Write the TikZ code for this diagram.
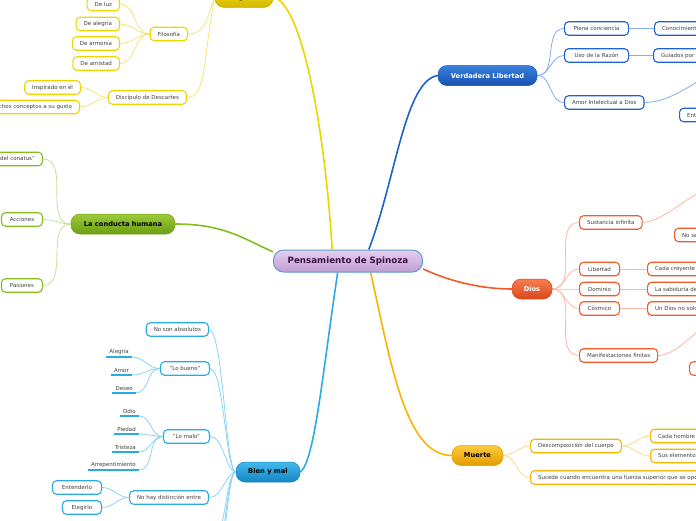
\documentclass[tikz,border=0pt]{standalone}
\usepackage{fontspec}
\setmainfont{DejaVu Sans}
\usetikzlibrary{backgrounds}
\usepackage{xcolor}
\definecolor{hubtop}{HTML}{E6CFEE}
\definecolor{hubbot}{HTML}{C19CD3}
\definecolor{hubedge}{HTML}{5B9BD5}
\definecolor{hubtext}{HTML}{3B1048}
\definecolor{leaftext}{HTML}{404040}
\definecolor{bioyellow}{HTML}{EFD500}
\definecolor{biotop}{HTML}{EDDA1A}
\definecolor{biobot}{HTML}{D2B800}
\definecolor{bioline}{HTML}{F5E47C}
\definecolor{congreen}{HTML}{86BC1E}
\definecolor{contop}{HTML}{9CCB3A}
\definecolor{conbot}{HTML}{6C9E12}
\definecolor{conline}{HTML}{C9E29A}
\definecolor{bymblue}{HTML}{2AACE3}
\definecolor{bymtop}{HTML}{43B9EB}
\definecolor{bymbot}{HTML}{1486C6}
\definecolor{bymline}{HTML}{8DD3F3}
\definecolor{libblue}{HTML}{1F62CC}
\definecolor{libtop}{HTML}{3A80DC}
\definecolor{libbot}{HTML}{1652B2}
\definecolor{libline}{HTML}{86AEEA}
\definecolor{diosred}{HTML}{F15A29}
\definecolor{diostop}{HTML}{F67E50}
\definecolor{diosbot}{HTML}{D9471B}
\definecolor{diosline}{HTML}{F9B9A2}
\definecolor{muerteor}{HTML}{F8B400}
\definecolor{muertetop}{HTML}{FCCB3C}
\definecolor{muertebot}{HTML}{E39C00}
\definecolor{muerteline}{HTML}{FBD98A}

\tikzset{
  hub/.style={rounded corners=10pt, draw=hubedge, line width=1pt, top color=hubtop, bottom color=hubbot,
    text=hubtext, font=\bfseries\fontsize{8.7}{9}\selectfont, minimum width=149pt, minimum height=22pt, inner sep=0pt},
  topic/.style={rounded corners=9pt, draw=#1bot, line width=0.5pt, top color=#1top, bottom color=#1bot,
    font=\bfseries\fontsize{6.7}{7}\selectfont, minimum height=20pt, inner sep=0pt},
  sub/.style={draw=#1, line width=1.1pt, fill=white, rounded corners=4pt, text=leaftext,
    font=\fontsize{5.5}{6}\selectfont, minimum height=13.5pt, inner xsep=7.5pt, inner ysep=0pt},
  uline/.style={text=leaftext, font=\fontsize{5.5}{6}\selectfont, inner xsep=3pt, inner ysep=2pt},
  trunk/.style={draw=#1, line width=1.6pt},
  twig/.style={draw=#1, line width=0.8pt}
}

\begin{document}
\begin{tikzpicture}[x=1pt, y=-1pt]
  \useasboundingbox (0,0) rectangle (696,520);
  \clip (0,0) rectangle (696,520);

  \node[hub] (spin) at (348,261) {Pensamiento de Spinoza};

  % Biografia (yellow)
  \node[topic=bio, minimum width=58pt] (bio) at (244,-2.5) {Biografía};
  \node[sub=bioyellow, anchor=east] (filo) at (188,34) {Filosofía};
  \foreach \n/\t/\y in {luz/De luz/4, alegria/De alegría/24, armonia/De armonía/43.5, amistad/De amistad/63.5} {
    \node[sub=bioyellow, anchor=east] (\n) at (120,\y) {\t};
  }
  \node[sub=bioyellow, anchor=east] (desc) at (187,97.5) {Discípulo de Descartes};
  \node[sub=bioyellow, anchor=east] (insp) at (81,87.5) {Inspirado en él};
  \node[sub=bioyellow, anchor=east] (gusto) at (80,107) {muchos conceptos a su gusto};

  % La conducta humana (green)
  \node[topic=con, minimum width=104pt] (cond) at (123,224) {La conducta humana};
  \node[sub=congreen, anchor=east] (conatus) at (43,159) {"Ley del conatus"};
  \node[sub=congreen, anchor=east, minimum width=41pt] (acc) at (43,219.5) {Acciones};
  \node[sub=congreen, anchor=east, minimum width=41pt] (pas) at (43,285.5) {Pasiones};

  % Bien y mal (light blue)
  \node[topic=bym, minimum width=64pt] (bym) at (268,472) {Bien y mal};
  \node[sub=bymblue, anchor=east] (nsa) at (209,329.5) {No son absolutos};
  \node[sub=bymblue, anchor=east, minimum width=49pt] (bueno) at (210,368.5) {"Lo bueno"};
  \node[sub=bymblue, anchor=east, minimum width=46pt] (malo) at (210,436.5) {"Lo malo"};
  \node[sub=bymblue, anchor=east] (nhd) at (209,497.5) {No hay distinción entre};
  \node[sub=bymblue, anchor=east, minimum width=49pt] (ent) at (102,487.5) {Entenderlo};
  \node[sub=bymblue, anchor=east, minimum width=39pt] (eleg) at (102,507.5) {Elegirlo};
  \foreach \n/\t/\x/\y in {aleg/Alegría/132/357, amor/Amor/132/375, deseo/Deseo/136/393,
      odio/Odio/139/416, piedad/Piedad/139/434, tristeza/Tristeza/139/452, arrep/Arrepentimiento/139/470} {
    \node[uline, anchor=south east] (\n) at (\x,\y) {\t};
    \draw[bymblue, line width=1.4pt] (\n.south west) -- (\n.south east);
  }
  \coordinate (bymout1) at (210,550);
  \coordinate (bymout2) at (210,575);
  \coordinate (bymout3) at (210,600);

  % Verdadera Libertad (blue)
  \node[topic=lib, text=white, minimum width=99pt] (lib) at (487.5,75.5) {Verdadera Libertad};
  \node[sub=libblue, anchor=west, minimum width=64pt] (plena) at (564,28.5) {Plena conciencia};
  \node[sub=libblue, anchor=west, minimum width=64pt] (razon) at (564,55.5) {Uso de la Razón};
  \node[sub=libblue, anchor=west] (amorint) at (564,102.5) {Amor Intelectual a Dios};
  \node[sub=libblue, anchor=west] (conoc) at (654,28.5) {Conocimiento};
  \node[sub=libblue, anchor=west] (guiados) at (653,55.5) {Guiados por la razón};
  \node[sub=libblue, anchor=west] (entend) at (679,115) {Entendimiento};
  \coordinate (libout) at (730,62);

  % Dios (red)
  \node[topic=dios, text=white, minimum width=40pt] (dios) at (532,289) {Dios};
  \node[sub=diosred, anchor=west] (sust) at (579,222.5) {Sustancia infinita};
  \node[sub=diosred, anchor=west] (nose) at (674,235) {No se divide};
  \foreach \n/\t/\y in {libre/Libertad/269, domin/Dominio/289, cosm/Cósmico/308.5} {
    \node[sub=diosred, anchor=west, minimum width=40pt] (\n) at (579,\y) {\t};
  }
  \node[sub=diosred, anchor=west] (manif) at (579,355.5) {Manifestaciones finitas};
  \node[sub=diosred, anchor=west] (creyente) at (647,269) {Cada creyente lo interpreta};
  \node[sub=diosred, anchor=west] (sabid) at (647,289) {La sabiduría de Dios};
  \node[sub=diosred, anchor=west] (nosolo) at (647,308.5) {Un Dios no solo personal};
  \node[sub=diosred, anchor=west, minimum width=40pt] (modos) at (689,368.5) {};
  \coordinate (sustout) at (725,182);
  \coordinate (manifout) at (725,318);

  % Muerte (orange)
  \node[topic=muerte, minimum width=51pt] (muerte) at (477.5,455.5) {Muerte};
  \node[sub=muerteor, anchor=west] (descomp) at (530,446) {Descomposición del cuerpo};
  \node[sub=muerteor, anchor=west] (sucede) at (530,477.5) {Sucede cuando encuentra una fuerza superior que se opone a su esfuerzo};
  \node[sub=muerteor, anchor=west] (hombre) at (650,436) {Cada hombre vuelve};
  \node[sub=muerteor, anchor=west] (elem) at (650,456) {Sus elementos regresan};

  \begin{scope}[on background layer]
    \clip (0,0) rectangle (696,520);
    \fill[white] (0,0) rectangle (696,520);
    % trunks
    \draw[trunk=bioyellow] (spin.144) .. controls +(-8,-130) and +(27,4) .. (bio.east);
    \draw[trunk=libblue] (spin.29) .. controls +(27,-70) and +(-33,5) .. (lib.west);
    \draw[trunk=congreen] (cond.east) .. controls +(50,0) and +(-28,-12) .. (spin.173);
    \draw[trunk=diosred] (spin.-6) .. controls +(30,14) and +(-27,0) .. (dios.west);
    \draw[trunk=muerteor] (spin.-27) .. controls +(20,88) and +(-47,0) .. (muerte.west);
    \draw[trunk=bymblue] (spin.228) .. controls +(-16,108) and +(14,-10) .. (bym.east);

    % twigs
    \draw[twig=bioline] (bio.west) .. controls +(-8,20) and +(18,0) .. (filo.east);
    \draw[twig=bioline] (bio.west) .. controls +(-12,60) and +(20,0) .. (desc.east);
    \foreach \n in {luz,alegria,armonia,amistad}
      \draw[twig=bioline] (filo.west) to[out=180,in=0] (\n.east);
    \foreach \n in {insp,gusto}
      \draw[twig=bioline] (desc.west) to[out=180,in=0] (\n.east);

    \foreach \n in {conatus,acc,pas}
      \draw[twig=conline] (cond.west) to[out=180,in=0] (\n.east);

    \foreach \n in {nsa,bueno,malo,nhd,bymout1,bymout2,bymout3}
      \draw[twig=bymline] (bym.west) .. controls +(-10,0) and +(14,0) .. (\n.east);
    \foreach \n in {aleg,amor,deseo}
      \draw[twig=bymline] (bueno.west) to[out=180,in=0] (\n.south east);
    \foreach \n in {odio,piedad,tristeza,arrep}
      \draw[twig=bymline] (malo.west) to[out=180,in=0] (\n.south east);
    \foreach \n in {ent,eleg}
      \draw[twig=bymline] (nhd.west) to[out=180,in=0] (\n.east);

    \foreach \n in {plena,razon,amorint}
      \draw[twig=libline] (lib.east) to[out=0,in=180] (\n.west);
    \draw[twig=libline] (plena.east) -- (conoc.west);
    \draw[twig=libline] (razon.east) -- (guiados.west);
    \draw[twig=libline] (amorint.east) .. controls +(30,0) and +(-25,12) .. (libout);

    \foreach \n in {sust,libre,domin,cosm,manif}
      \draw[twig=diosline] (dios.east) to[out=0,in=180] (\n.west);
    \draw[twig=diosline] (libre.east) -- (creyente.west);
    \draw[twig=diosline] (domin.east) -- (sabid.west);
    \draw[twig=diosline] (cosm.east) -- (nosolo.west);
    \draw[twig=diosline] (sust.east) .. controls +(22,0) and +(-22,0) .. (sustout);
    \draw[twig=diosline] (manif.east) .. controls +(22,0) and +(-22,0) .. (manifout);

    \foreach \n in {descomp,sucede}
      \draw[twig=muerteline] (muerte.east) to[out=0,in=180] (\n.west);
    \foreach \n in {hombre,elem}
      \draw[twig=muerteline] (descomp.east) to[out=0,in=180] (\n.west);
  \end{scope}
\end{tikzpicture}
\end{document}
